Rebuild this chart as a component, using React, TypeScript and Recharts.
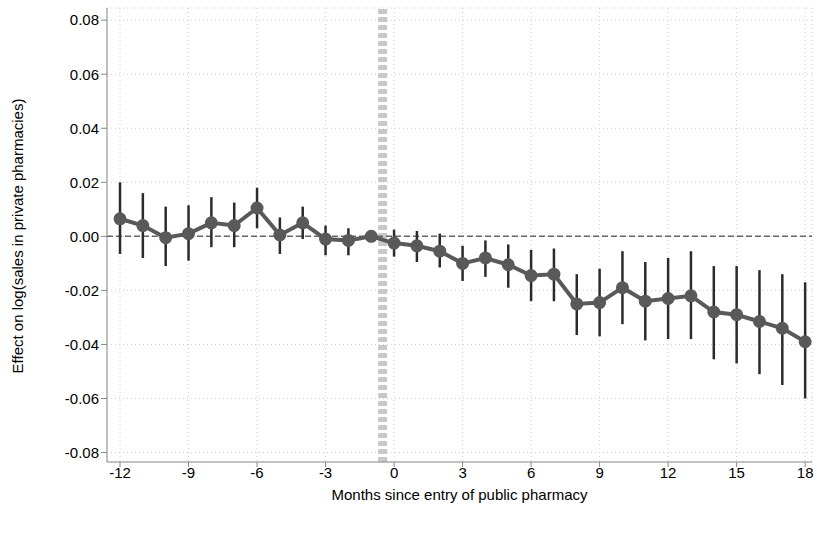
import React from "react"
import { ComposedChart, Line, XAxis, YAxis, CartesianGrid, ReferenceLine, ErrorBar } from "recharts"

const months = [-12, -11, -10, -9, -8, -7, -6, -5, -4, -3, -2, -1, 0, 1, 2, 3, 4, 5, 6, 7, 8, 9, 10, 11, 12, 13, 14, 15, 16, 17, 18]
const effect = [0.0065, 0.004, -0.0005, 0.001, 0.005, 0.004, 0.0105, 0.0005, 0.005, -0.001, -0.0015, 0, -0.0025, -0.0035, -0.0055, -0.01, -0.008, -0.0105, -0.0145, -0.014, -0.025, -0.0245, -0.019, -0.024, -0.023, -0.022, -0.028, -0.029, -0.0315, -0.034, -0.039]
const ciLow = [-0.0065, -0.008, -0.011, -0.009, -0.004, -0.004, 0.003, -0.0065, -0.001, -0.007, -0.007, 0, -0.0075, -0.0095, -0.0115, -0.0165, -0.015, -0.019, -0.024, -0.024, -0.0365, -0.037, -0.0325, -0.0385, -0.038, -0.038, -0.0455, -0.047, -0.051, -0.055, -0.06]
const ciHigh = [0.02, 0.016, 0.011, 0.0115, 0.0145, 0.0125, 0.018, 0.007, 0.011, 0.004, 0.003, 0, 0.0025, 0.002, 0.001, -0.0035, -0.0015, -0.003, -0.005, -0.0045, -0.014, -0.012, -0.0055, -0.0095, -0.008, -0.0055, -0.011, -0.011, -0.0125, -0.014, -0.017]
const xTicks = [-12, -9, -6, -3, 0, 3, 6, 9, 12, 15, 18]
const yTicks = [-0.08, -0.06, -0.04, -0.02, 0, 0.02, 0.04, 0.06, 0.08]

const data = months.map((m, i) => ({
  m,
  effect: effect[i],
  err: [effect[i] - ciLow[i], ciHigh[i] - effect[i]],
}))

const font = { fontFamily: "'Liberation Sans', Arial, sans-serif", fontSize: 15, fill: "#000" }

const YLabel = () => (
  <text x={19} y={236} transform="rotate(-90 19 236)" textAnchor="middle" dominantBaseline="middle" style={font}>
    Effect on log(sales in private pharmacies)
  </text>
)

export default function App() {
  return (
    <div style={{ position: "absolute", left: 0, top: 0 }}>
      <ComposedChart width={817} height={533} data={data} margin={{ top: 8, right: 5, left: 47, bottom: 31 }}>
        <CartesianGrid stroke="#cfcfcf" strokeDasharray="1 3" />
        <XAxis
          type="number"
          dataKey="m"
          domain={[-12.57, 18.3]}
          ticks={xTicks}
          tick={font}
          stroke="#888"
          tickSize={5}
          tickMargin={0}
          height={40}
          label={{ value: "Months since entry of public pharmacy", position: "insideBottom", offset: 2, style: font }}
        />
        <YAxis
          type="number"
          domain={[-0.0835, 0.0845]}
          ticks={yTicks}
          tickFormatter={(v: number) => v.toFixed(2)}
          tick={font}
          stroke="#888"
          tickSize={6}
          width={60}
          label={<YLabel />}
        />
        <ReferenceLine x={-0.5} stroke="#c8c8c8" strokeWidth={9} strokeDasharray="5 3" />
        <ReferenceLine y={0} stroke="#666" strokeWidth={1.5} strokeDasharray="6 3" />
        <Line
          dataKey="effect"
          stroke="#595959"
          strokeWidth={4}
          dot={{ r: 4.5, fill: "#595959", stroke: "#595959" }}
          isAnimationActive={false}
        >
          <ErrorBar dataKey="err" width={0} stroke="#2b2b2b" strokeWidth={2.5} direction="y" />
        </Line>
      </ComposedChart>
    </div>
  )
}
